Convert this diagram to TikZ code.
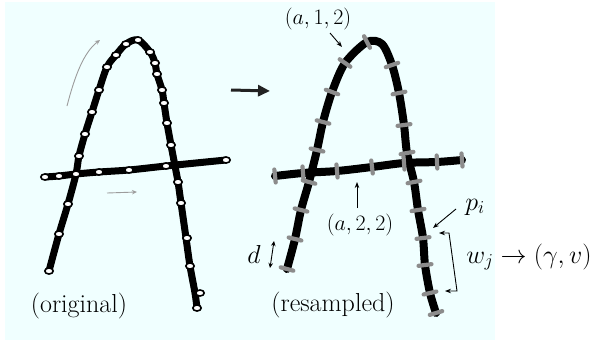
\RequirePackage{fix-cm}
\documentclass[tikz,border=0pt]{standalone}
\usepackage{fontspec}
\usetikzlibrary{calc,arrows.meta}
\definecolor{bgcyan}{HTML}{F0FFFF}
\definecolor{tickgray}{HTML}{8C8C8C}
\definecolor{hintgray}{HTML}{9C9C9C}
\definecolor{bigarrow}{HTML}{222222}
\tikzset{
  stroke/.style={line width=7pt,line cap=round,line join=round,black},
  rstroke/.style={line width=8pt,line cap=round,line join=round,black},
  tickstyle/.style={line width=4.2pt,line cap=round,tickgray},
  dotstyle/.style={fill=white,draw=black,line width=1.6pt},
  hint/.style={hintgray,line width=0.9pt,-{Stealth[length=5pt,width=4.5pt,open]}},
  lab/.style={black,line width=0.9pt,-{Stealth[length=6pt,width=4.5pt]}},
  txt/.style={inner sep=0pt,font=\rmfamily\fontsize{26}{30}\selectfont},
  msmall/.style={inner sep=0pt,font=\fontsize{22}{26}\selectfont},
  mbig/.style={inner sep=0pt,font=\fontsize{26}{30}\selectfont},
}
\newcommand\tk[3]{\draw[tickstyle] let \p1=($(#3)-(#1)$), \n1={atan2(\y1,\x1)} in ($(#2)+(\n1+90:6.5pt)$) -- ($(#2)+(\n1-90:6.5pt)$);}
\begin{document}
\begin{tikzpicture}[x=1pt,y=-1pt]
\useasboundingbox (0,0) rectangle (596,345);
\fill[bgcyan] (5,2) rectangle (495,340);

% ---------- original A ----------
\draw[stroke] plot[smooth,tension=0.55] coordinates {(49,271) (59,234) (68,204) (76,174) (79,156) (85,134) (92,112) (99,90) (107,67) (116,55) (126,44) (138,40) (150,52) (155,63) (157,74) (162,90) (164,103) (167,123) (171,145) (175,166) (178,182) (181,203) (186,238) (190,266) (195,293) (197,308)};
\draw[stroke] plot[smooth,tension=0.5] coordinates {(45,177) (59,176) (76,174) (99,172) (129,170) (166,166) (226,160)};
\foreach \p in {(49,271),(59,234),(68,204),(79,156),(85,134),(92,112),(99,90),(107,67),(116,55),(126,44),(138,40),(150,52),(155,63),(157,74),(162,90),(164,103),(167,123),(171,145),(178,182),(181,203),(187,238),(190,266),(200,293),(197,308),(45,177),(59,176),(76,174),(99,172),(129,170),(166,166),(226,160)}
  \draw[dotstyle] \p ellipse [x radius=4.2, y radius=3];

% hint arrows
\coordinate (h1a) at (67,106); \coordinate (h1b) at (100,40);
\draw[hint] (h1a) .. controls (75,75) and (84,52) .. (h1b);
\coordinate (h2a) at (107,193); \coordinate (h2b) at (137,192);
\draw[hint] (h2a) -- (h2b);

% big arrow
\coordinate (ba) at (231,90); \coordinate (bb) at (270,91);
\draw[bigarrow,line width=3pt,-{Triangle[length=12pt,width=11pt]}] (ba) -- (bb);

% ---------- resampled A ----------
\coordinate (L0) at (287,269); \coordinate (L1) at (295,239); \coordinate (L2) at (301,210);
\coordinate (L3) at (309,182); \coordinate (L4) at (317,150); \coordinate (L5) at (323,122);
\coordinate (L6) at (332,92); \coordinate (L7) at (345,63); \coordinate (L8) at (367,42);
\coordinate (T) at (382,44);
\coordinate (R0) at (392,65); \coordinate (R1) at (399,93); \coordinate (R2) at (404,125);
\coordinate (R3) at (407,153); \coordinate (R4) at (414,182); \coordinate (R5) at (418,210);
\coordinate (R6) at (423,238); \coordinate (R7) at (425,265); \coordinate (R8) at (430,293);
\coordinate (R9) at (436,313);
\coordinate (C0) at (275,176); \coordinate (C1) at (303,173); \coordinate (C2) at (337,171);
\coordinate (C3) at (372,167); \coordinate (C4) at (404,163); \coordinate (C5) at (437,162);
\coordinate (C6) at (462,160);

\draw[rstroke] plot[smooth,tension=0.5] coordinates {(L0) (L1) (L2) (L3) (L4) (L5) (L6) (L7) (L8) (T) (R0) (R1) (R2) (R3) (R4) (R5) (R6) (R7) (R8) (R9)};
\draw[rstroke] plot[smooth,tension=0.5] coordinates {(C0) (C1) (C2) (C3) (C4) (C5) (C6)};

\tk{L0}{L0}{L1} \tk{L0}{L1}{L2} \tk{L1}{L2}{L3} \tk{L2}{L3}{L4} \tk{L3}{L4}{L5}
\tk{L4}{L5}{L6} \tk{L5}{L6}{L7} \tk{L6}{L7}{L8} \tk{L7}{L8}{T}
\tk{T}{R0}{R1} \tk{R0}{R1}{R2} \tk{R1}{R2}{R3} \tk{R2}{R3}{R4} \tk{R3}{R4}{R5}
\tk{R4}{R5}{R6} \tk{R5}{R6}{R7} \tk{R6}{R7}{R8} \tk{R7}{R8}{R9} \tk{R8}{R9}{R9}
\tk{C0}{C0}{C1} \tk{C0}{C1}{C2} \tk{C1}{C2}{C3} \tk{C2}{C3}{C4} \tk{C3}{C4}{C5}
\tk{C4}{C5}{C6} \tk{C5}{C6}{C6}

% ---------- labels ----------
\node[txt] (orig) at (79,306) {(original)};
\node[txt] (resa) at (333,305) {(resampled)};
\node[msmall] (l112) at (318,19) {$(a,1,2)$};
\node[msmall] (l222) at (360,225) {$(a,2,2)$};
\node[mbig] (pi) at (475,207) {$p_i$};
\node[mbig] (wj) at (529,257) {$w_j \rightarrow (\gamma,v)$};
\node[mbig] (dl) at (254,254) {$d$};

\coordinate (a1t) at (330,33); \coordinate (a1h) at (342,47);
\draw[lab] (a1t) -- (a1h);
\coordinate (a2t) at (357,208); \coordinate (a2h) at (357,182);
\draw[lab] (a2t) -- (a2h);
\coordinate (pt) at (456,209); \coordinate (ph) at (433,228);
\draw[lab] (pt) -- (ph);
\coordinate (w1) at (439,233); \coordinate (w2) at (449,233);
\coordinate (w3) at (457,291); \coordinate (w4) at (445,291);
\draw[black,line width=0.9pt,{Stealth[length=6pt,width=4.5pt]}-{Stealth[length=6pt,width=4.5pt]}] (w1) -- (w2) -- (w3) -- (w4);
\coordinate (d1) at (274,241); \coordinate (d2) at (270,268);
\draw[black,line width=0.9pt,{Stealth[length=5pt,width=4.5pt]}-{Stealth[length=5pt,width=4.5pt]}] (d1) -- (d2);
\end{tikzpicture}
\end{document}
